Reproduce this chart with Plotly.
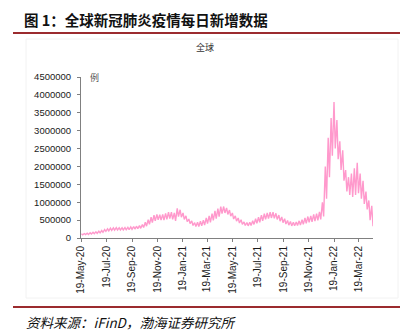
import pandas as pd
import plotly.graph_objects as go

# Weekly global new cases: the mid-week high and the weekend low of each week,
# weeks starting 2020-05-19.
week_high = [
    120000, 125000, 135000, 145000, 160000, 175000, 190000, 210000, 235000, 255000,
    275000, 285000, 290000, 285000, 285000, 290000, 300000, 310000, 320000, 330000,
    345000, 380000, 440000, 510000, 580000, 640000, 660000, 650000, 660000, 690000,
    720000, 720000, 700000, 830000, 790000, 700000, 620000, 530000, 480000, 430000,
    440000, 470000, 500000, 560000, 620000, 680000, 760000, 820000, 880000, 880000,
    840000, 780000, 700000, 620000, 560000, 510000, 450000, 430000, 440000, 480000,
    540000, 580000, 640000, 680000, 700000, 720000, 720000, 690000, 640000, 590000,
    540000, 490000, 460000, 440000, 450000, 480000, 510000, 560000, 600000, 620000,
    660000, 680000, 730000, 1000000, 2000000, 2800000, 3350000, 3800000, 3300000, 2700000,
    2450000, 1900000, 1700000, 1800000, 1950000, 2100000, 1800000, 1600000, 1300000, 1050000,
    900000,
]
week_low = [
    90000, 95000, 100000, 110000, 120000, 130000, 145000, 160000, 185000, 200000,
    215000, 220000, 225000, 225000, 225000, 230000, 235000, 245000, 250000, 260000,
    270000, 290000, 330000, 380000, 430000, 480000, 510000, 500000, 500000, 520000,
    540000, 520000, 480000, 600000, 580000, 520000, 460000, 400000, 350000, 320000,
    320000, 340000, 360000, 400000, 440000, 490000, 540000, 600000, 680000, 700000,
    660000, 610000, 530000, 470000, 420000, 380000, 350000, 340000, 350000, 380000,
    410000, 440000, 480000, 520000, 540000, 560000, 550000, 520000, 470000, 430000,
    390000, 360000, 340000, 340000, 350000, 360000, 380000, 410000, 440000, 450000,
    470000, 490000, 520000, 600000, 1100000, 1700000, 2300000, 2500000, 2200000, 1900000,
    1600000, 1300000, 1200000, 1150000, 1200000, 1250000, 1100000, 950000, 800000, 500000,
    330000,
]

tick_dates = ["2020-05-19", "2020-07-19", "2020-09-19", "2020-11-19", "2021-01-19",
              "2021-03-19", "2021-05-19", "2021-07-19", "2021-09-19", "2021-11-19",
              "2022-01-19", "2022-03-19"]
tick_labels = ["19-May-20", "19-Jul-20", "19-Sep-20", "19-Nov-20", "19-Jan-21",
               "19-Mar-21", "19-May-21", "19-Jul-21", "19-Sep-21", "19-Nov-21",
               "19-Jan-22", "19-Mar-22"]
y_ticks = list(range(0, 4500001, 500000))

# Interleave highs (Wednesday) and lows (Saturday) into one daily-dated series
week_starts = pd.date_range("2020-05-19", periods=len(week_high), freq="7D")
dates, values = [], []
for start, hi, lo in zip(week_starts, week_high, week_low):
    dates.append(start + pd.Timedelta(days=1))
    values.append(hi)
    dates.append(start + pd.Timedelta(days=4))
    values.append(lo)

W, H = 409, 335
L, R, T, B = 81, 36, 77, 97
PW, PH = W - L - R, H - T - B


def px(x):
    return (x - L) / PW


def py(y):
    return (H - B - y) / PH


fig = go.Figure()
fig.add_trace(go.Scatter(
    x=dates, y=values, mode="lines",
    line=dict(color="#FF99CC", width=1.4),
    showlegend=False, hoverinfo="skip",
))

axis_font = dict(family="Liberation Sans, Arial, sans-serif", size=10, color="#1a1a1a")
fig.update_layout(
    width=W, height=H, autosize=False,
    margin=dict(l=L, r=R, t=T, b=B, pad=0),
    paper_bgcolor="white", plot_bgcolor="white",
    xaxis=dict(
        type="date", range=["2020-05-19", "2022-04-23"],
        tickvals=tick_dates, ticktext=tick_labels, tickangle=-90,
        tickfont=axis_font, ticks="outside", ticklen=3, tickcolor="#808080",
        showline=True, linecolor="#808080", linewidth=1,
        showgrid=False, zeroline=False,
    ),
    yaxis=dict(
        range=[0, 4500000], tickvals=y_ticks, ticktext=[str(v) for v in y_ticks],
        tickfont=dict(family="Liberation Sans, Arial, sans-serif", size=9.5, color="#1a1a1a"),
        ticks="outside", ticklen=3, tickcolor="#808080", ticklabelstandoff=4,
        showline=True, linecolor="#808080", linewidth=1,
        showgrid=False, zeroline=False,
    ),
)

dark_red = "#9B2B2E"
fig.add_shape(type="rect", xref="paper", yref="paper",
              x0=px(26), x1=px(398), y0=py(298), y1=py(39),
              line=dict(color="#F2F2F2", width=1), layer="below")
fig.add_shape(type="line", xref="paper", yref="paper",
              x0=px(13), x1=px(400), y0=py(33), y1=py(33),
              line=dict(color=dark_red, width=2.2))
fig.add_shape(type="line", xref="paper", yref="paper",
              x0=px(13), x1=px(400), y0=py(307), y1=py(307),
              line=dict(color=dark_red, width=2.2))

cjk = "Noto Sans CJK SC"
fig.add_annotation(xref="paper", yref="paper", x=px(22), y=py(19),
                   xanchor="left", yanchor="middle", showarrow=False,
                   text="<b>图 1：全球新冠肺炎疫情每日新增数据</b>",
                   font=dict(family=cjk, size=14.5, color="#111111"))
fig.add_annotation(xref="paper", yref="paper", x=px(205), y=py(47),
                   xanchor="center", yanchor="middle", showarrow=False,
                   text="全球", font=dict(family=cjk, size=9, color="#333333"))
fig.add_annotation(xref="paper", yref="paper", x=px(94), y=py(77),
                   xanchor="center", yanchor="middle", showarrow=False,
                   text="例", font=dict(family=cjk, size=9, color="#555555"))
fig.add_annotation(xref="paper", yref="paper", x=px(24), y=py(322),
                   xanchor="left", yanchor="middle", showarrow=False,
                   text="<i>资料来源：iFinD，渤海证券研究所</i>",
                   font=dict(family=cjk, size=13.5, color="#111111"))

fig.write_html("out.html")
